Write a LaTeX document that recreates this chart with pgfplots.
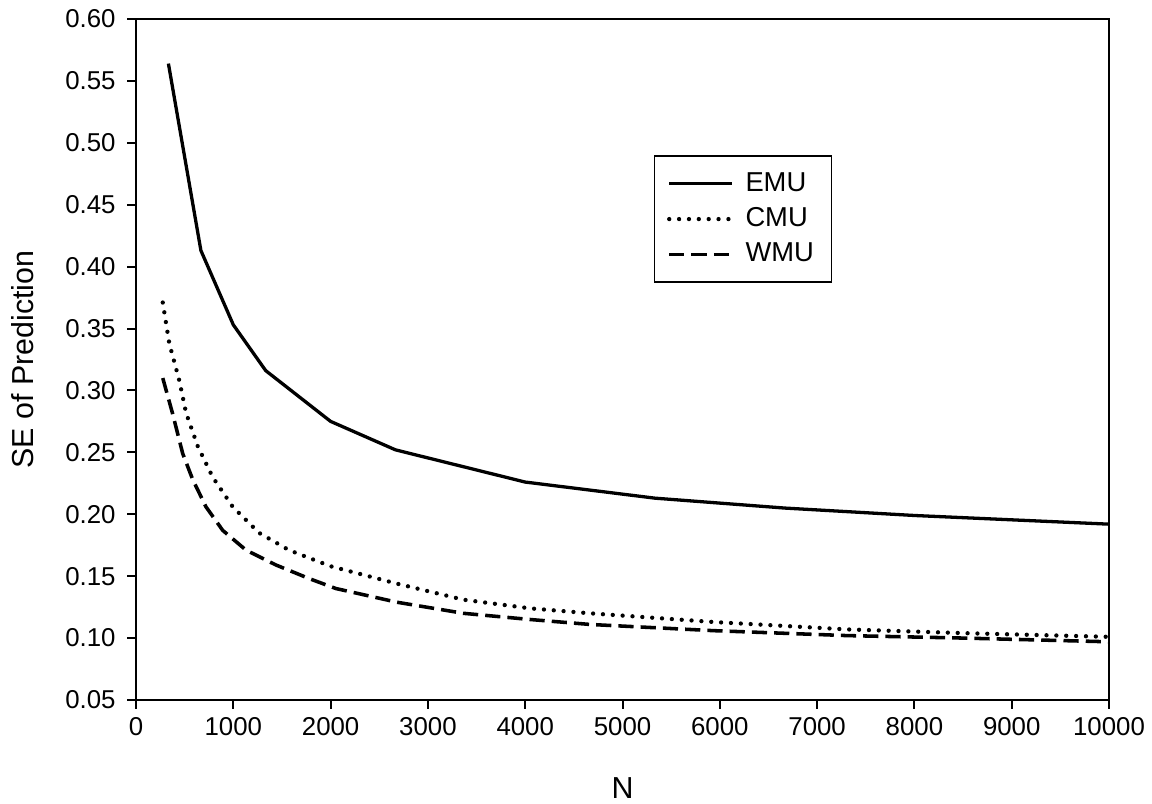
\documentclass[border=0pt]{standalone}
\usepackage{fontspec}
\setmainfont{Liberation Sans}
\usepackage{pgfplots}
\pgfplotsset{compat=1.18}

\begin{document}
\begin{tikzpicture}
\begin{axis}[
    name=ax,
    scale only axis,
    width=13.514cm, height=9.458cm,
    xmin=0, xmax=10000,
    ymin=0.05, ymax=0.60,
    xtick={0,1000,...,10000},
    ytick={0.05,0.10,...,0.61},
    axis line style={line width=0.9pt},
    tick align=outside,
    tick pos=left,
    major tick length=0.125cm,
    tick style={line width=0.8pt, black},
    scaled x ticks=false,
    /pgf/number format/assume math mode=true,
    xticklabel style={font=\fontsize{10.2}{12}\selectfont, /pgf/number format/.cd, 1000 sep={}},
    yticklabel style={font=\fontsize{10.2}{12}\selectfont, xshift=-1pt, /pgf/number format/.cd, fixed, fixed zerofill, precision=2},
    xlabel={N},
    ylabel={SE of Prediction},
    xlabel style={font=\fontsize{12}{14}\selectfont, at={(axis description cs:0.5,-0.129)}, anchor=center},
    ylabel style={font=\fontsize{12}{14}\selectfont, at={(axis description cs:-0.116,0.5)}, anchor=center, rotate=0},
    legend style={
        at={(axis description cs:0.532,0.800)}, anchor=north west,
        draw=black, line width=0.6pt,
        font=\fontsize{10.8}{12}\selectfont,
        inner xsep=5pt, inner ysep=4.5pt,
        row sep=1pt,
        /tikz/every odd column/.append style={column sep=2.5pt},
    },
    legend cell align=left,
    legend image code/.code={\draw[#1] (0pt,0pt) -- (24.8pt,0pt);},
]
% EMU
\addplot[black, line width=1.3pt] coordinates {
    (333,0.564) (667,0.413) (1000,0.353) (1333,0.316) (2000,0.275)
    (2667,0.252) (4000,0.226) (5333,0.213) (6667,0.205) (8000,0.199)
    (10000,0.192)
};
\addlegendentry{EMU}
% CMU
\addplot[black, line width=1.7pt, line cap=round, dash pattern=on 0pt off 3.9pt] coordinates {
    (275,0.371) (342,0.338) (445,0.308) (514,0.282) (634,0.255)
    (788,0.230) (994,0.206) (1264,0.185) (1573,0.171) (2000,0.158)
    (2679,0.144) (3364,0.131) (4049,0.124) (4666,0.120) (5930,0.113)
    (7304,0.107) (8500,0.104) (10000,0.101)
};
\addlegendentry{CMU}
% WMU
\addplot[black, line width=1.4pt, dash pattern=on 6pt off 2.8pt] coordinates {
    (275,0.310) (377,0.281) (480,0.249) (583,0.228) (719,0.206)
    (891,0.187) (1131,0.171) (1439,0.159) (1781,0.148) (2055,0.140)
    (2679,0.129) (3364,0.120) (4049,0.115) (4666,0.111) (5930,0.106)
    (7304,0.102) (8500,0.100) (10000,0.097)
};
\addlegendentry{WMU}
\end{axis}
\pgfresetboundingbox
\path[use as bounding box] ([shift={(-1.889cm,-1.444cm)}]ax.south west) rectangle ([shift={(0.597cm,0.264cm)}]ax.north east);
\end{tikzpicture}
\end{document}
